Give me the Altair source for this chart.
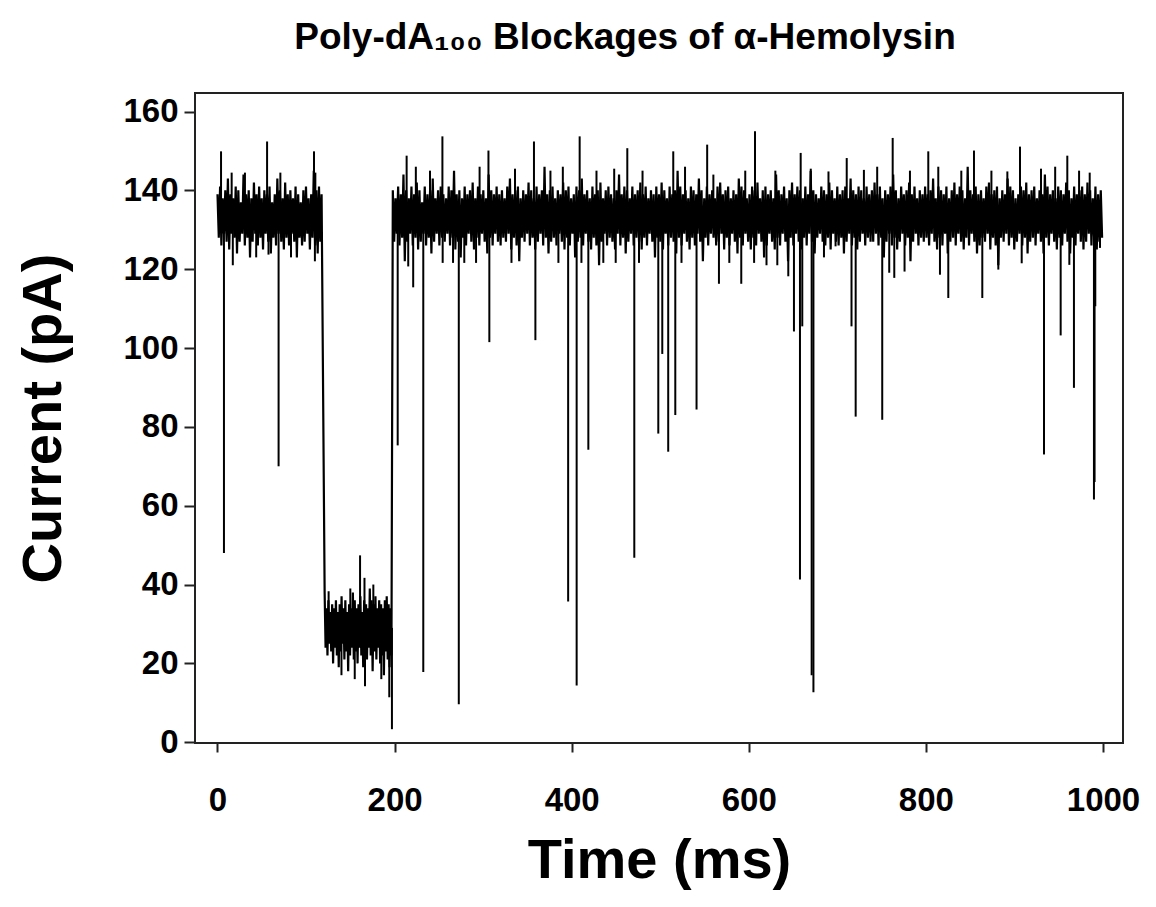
import altair as alt
import pandas as pd

# ---- trace envelope samples (pA) ----
# open pore, first stretch (0-120 ms)
hi_a = [139,141,138,140,143,139,138,141,140,137,144,139,140,138,142,139,141,138,140,139,
        141,137,139,143,140,138,142,139,140,138,141,139,137,140,141,138,139,145,140,141,139]
lo_a = [128,126,129,127,125,129,128,124,127,129,126,128,123,127,129,126,128,125,129,127,
        124,128,126,129,127,125,128,126,129,127,123,128,126,127,129,125,128,126,124,127]
# poly-dA blockage (121-197 ms)
hi_b = [38,34,36,33,35,34,36,33,35,37,34,36,33,35,34,38,36,34,35,37,33,36,35,34,39,36,
        35,37,34,36,35,34,36,37,35,34]
lo_b = [24,22,25,23,20,24,22,19,23,25,21,23,18,22,24,21,23,20,24,22,19,23,21,24,22,18,
        23,21,24,20,22,17,23,21,19,22]
# open pore, second stretch (198-1000 ms)
hi_c = [140,138,141,139,144,140,138,141,139,142,140,137,141,139,140,143,138,140,141,139,
        138,141,140,145,139,140,138,141,139,140,142,138,141,139,140,138,144,140,139,141,
        139,140,138,141,143,139,140,141,138,140,139,142,140,138,141,139,140,146,139,140,
        141,138,140,139,142,140,141,138,139,141,140,143,139,140,138,141,139,140,142,138,
        140,141,139,138,140,144,139,141,140,138,141,139,140,142,139,141,138,140,139,141,
        139,142,140,138,141,139,140,145,141,139,140,138,141,140,139,143,140,138,141,139,
        140,138,141,142,139,140,141,138,140,139,143,141,140,138,139,141,140,142,138,140,
        141,139,140,138,144,140,139,141,138,140,142,139,141,140,138,141,139,145,140,139,
        138,141,140,139,142,140,138,141,139,140,141,138,143,140,139,141,140,138,141,139,
        140,142,139,141,138,140,139,141,144,140,138,141,139,140,142,139,141,138,140,139,
        141,139,140,143,138,141,140,139,141,138,140,142,139,141,140,138,146,140,139,141,
        139,140,138,141,142,139,140,141,138,140,139,143,141,140,138,139,141,140,142,139,
        140,141,138,140,139,144,141,139,140,138,141,140,139,142,140,138,141,139,140,141,
        139,142,140,138,141,139,140]
lo_c = [127,129,126,128,122,127,129,126,128,125,127,129,126,128,124,127,129,126,128,127,
        129,126,128,125,127,123,128,126,129,127,125,128,126,129,127,124,128,126,129,127,
        126,128,127,129,125,128,126,122,128,127,129,126,128,125,127,129,126,128,124,127,
        128,126,129,127,125,128,126,129,123,127,128,126,129,127,125,128,126,121,127,129,
        126,128,127,125,129,126,128,124,127,129,126,128,127,125,128,126,129,127,123,128,
        127,125,129,126,128,127,124,128,126,129,127,125,128,126,129,127,122,128,126,129,
        128,126,127,129,125,128,126,129,127,124,128,126,129,127,125,128,126,129,127,123,
        126,129,127,125,128,126,129,127,122,128,126,129,127,125,128,126,129,127,124,128,
        129,127,126,128,125,129,127,126,128,124,127,129,126,128,125,127,129,126,128,127,
        127,129,126,128,123,127,129,126,128,125,127,129,126,128,122,127,129,126,128,127,
        128,126,129,127,125,128,126,129,124,127,128,126,129,127,125,128,126,129,127,124,
        126,128,127,129,125,128,126,121,128,127,129,126,128,125,127,129,126,128,124,127,
        128,126,129,127,124,128,126,129,127,125,128,126,129,127,124,128,126,129,127,125,
        127,129,126,128,125,127,128]

# ---- spikes on the open-pore level (from 133 pA) ----
down_t = [7.3, 69, 203.5, 221, 232.4, 272.5, 307, 359, 396, 405.6, 418.8, 470.7, 497.8,
          502.3, 509, 517, 541, 566.3, 591.5, 651, 657.8, 660.4, 671, 673, 716, 720.7,
          750.7, 825.3, 863.7, 933.4, 952.2, 967.2, 989.8, 990.5, 991.3,
          17.3, 43.7, 57.6, 83, 110, 215.4, 254.3, 266, 278.7, 292, 332, 385, 411, 435.7,
          449.7, 476, 524, 578, 606, 620, 632.2, 644.6, 684.9, 698, 758.6, 764.3, 775.9,
          815.9, 881.8, 908.2, 962, 996.6]
down_v = [48, 70, 75.3, 115.4, 17.8, 9.6, 101.5, 102, 35.7, 14.4, 74.2, 46.8, 78.3,
          98.5, 73.7, 83, 84.4, 116.3, 116.3, 104.2, 41.3, 105.5, 17, 12.7, 105.5, 82.6,
          81.8, 112.7, 112.7, 73, 103.2, 89.9, 61.6, 66, 110.6,
          121, 123, 123.7, 123, 122, 120.7, 121.6, 121.6, 121.6, 121.6, 121.6, 121.6,
          121.6, 121.6, 121.6, 121.6, 121.6, 121.6, 121.6, 121, 121, 118.2, 123, 125.8,
          119.1, 117.8, 119.4, 118.6, 119.9, 121.5, 121.1, 125.4]
up_t = [4, 56, 109, 213.6, 254, 306, 357.4, 409, 462.8, 514.7, 553, 607, 658.6, 710.6,
        762.5, 802.7, 854.3, 906.3, 959.7,
        16, 31, 71, 110.5, 224, 240, 296, 336, 376, 390, 428, 448, 480, 528, 560, 596,
        630, 670, 690, 730, 745, 782, 814, 840, 874, 892, 930, 946, 973, 985]
up_v = [149.9, 152.4, 149.9, 148.8, 153.7, 150.1, 152.4, 153.7, 150.7, 149.9, 151.6,
        155, 149.5, 148.2, 153.3, 149.9, 150.1, 151.1, 148.8,
        144.5, 144.5, 144.5, 144.5, 146, 145, 146, 145.5, 145, 146, 145, 145.5, 145, 146,
        144, 145, 145, 145.5, 144.8, 145.2, 146, 145, 146, 145, 145, 144.8, 145.5, 146,
        145, 144.5]
# ---- spikes on the blocked level (from 29 pA) ----
blk_t = [125.5, 150, 161, 166, 176, 140, 155, 166.6, 185, 194, 197]
blk_v = [38.3, 39, 47.4, 41.7, 40, 17, 16, 14.2, 16, 11.4, 3.3]

x_ticks = [0, 200, 400, 600, 800, 1000]
y_ticks = [0, 20, 40, 60, 80, 100, 120, 140, 160]


def zigzag(hi, lo, t0, t1):
    step = (t1 - t0) / len(hi)
    rows = []
    for i, h in enumerate(hi):
        rows.append({"t": t0 + i * step, "v": h})
        if i < len(lo):
            rows.append({"t": t0 + (i + 0.5) * step, "v": lo[i]})
    return rows


trace = (zigzag(hi_a, lo_a, 0.0, 120.5)
         + zigzag(hi_b, lo_b, 121.0, 197.5)
         + zigzag(hi_c, lo_c, 198.0, 1000.5))
trace_df = pd.DataFrame(trace)
trace_df["i"] = range(len(trace_df))

spikes = ([{"t": t, "v": v, "base": 133} for t, v in zip(down_t, down_v)]
          + [{"t": t, "v": v, "base": 135} for t, v in zip(up_t, up_v)]
          + [{"t": t, "v": v, "base": 29} for t, v in zip(blk_t, blk_v)])
spike_df = pd.DataFrame(spikes)

FONT = "Liberation Sans"

xs = alt.Scale(domain=[-25.4, 1022.6], nice=False, zero=False)
ys = alt.Scale(domain=[-0.2, 164.7], nice=False, zero=False)

x_axis = alt.Axis(values=x_ticks, format="d", title="Time (ms)", grid=False, tickSize=9,
                  tickWidth=2, tickColor="#222", domain=False, labelFont=FONT,
                  labelFontSize=33, labelFontWeight="bold", labelColor="black",
                  labelPadding=32, titleFont=FONT, titleFontSize=56,
                  titleFontWeight="bold", titleColor="black", titleX=464, titleY=134,
                  titleBaseline="alphabetic", titleAlign="center")
y_axis = alt.Axis(values=y_ticks, format="d", title="Current (pA)", grid=False,
                  tickSize=11, tickWidth=2, tickColor="#222", domain=False,
                  labelFont=FONT, labelFontSize=33, labelFontWeight="bold",
                  labelColor="black", labelPadding=6, titleFont=FONT, titleFontSize=56,
                  titleFontWeight="bold", titleColor="black", titleAngle=-90,
                  titleX=-135, titleY=325, titleBaseline="alphabetic",
                  titleAlign="center")

line = alt.Chart(trace_df).mark_line(color="black", strokeWidth=2.2).encode(
    x=alt.X("t:Q", scale=xs, axis=x_axis),
    y=alt.Y("v:Q", scale=ys, axis=y_axis),
    order="i:Q",
)

rules = alt.Chart(spike_df).mark_rule(color="black", strokeWidth=2).encode(
    x=alt.X("t:Q", scale=xs),
    y=alt.Y("base:Q", scale=ys),
    y2="v:Q",
)

chart = alt.layer(line, rules).properties(
    width=928,
    height=650,
    background="white",
    title=alt.TitleParams("Poly-dA₁₀₀ Blockages of α-Hemolysin", font=FONT,
                          fontSize=37, fontWeight="bold", color="black",
                          anchor="middle", dx=-34, offset=36),
    autosize=alt.AutoSizeParams(type="none"),
    padding={"left": 195, "top": 93, "right": 33, "bottom": 164},
).configure_view(stroke="#222222", strokeWidth=2)

chart.save("out.html", embed_options={"renderer": "svg", "actions": False})
